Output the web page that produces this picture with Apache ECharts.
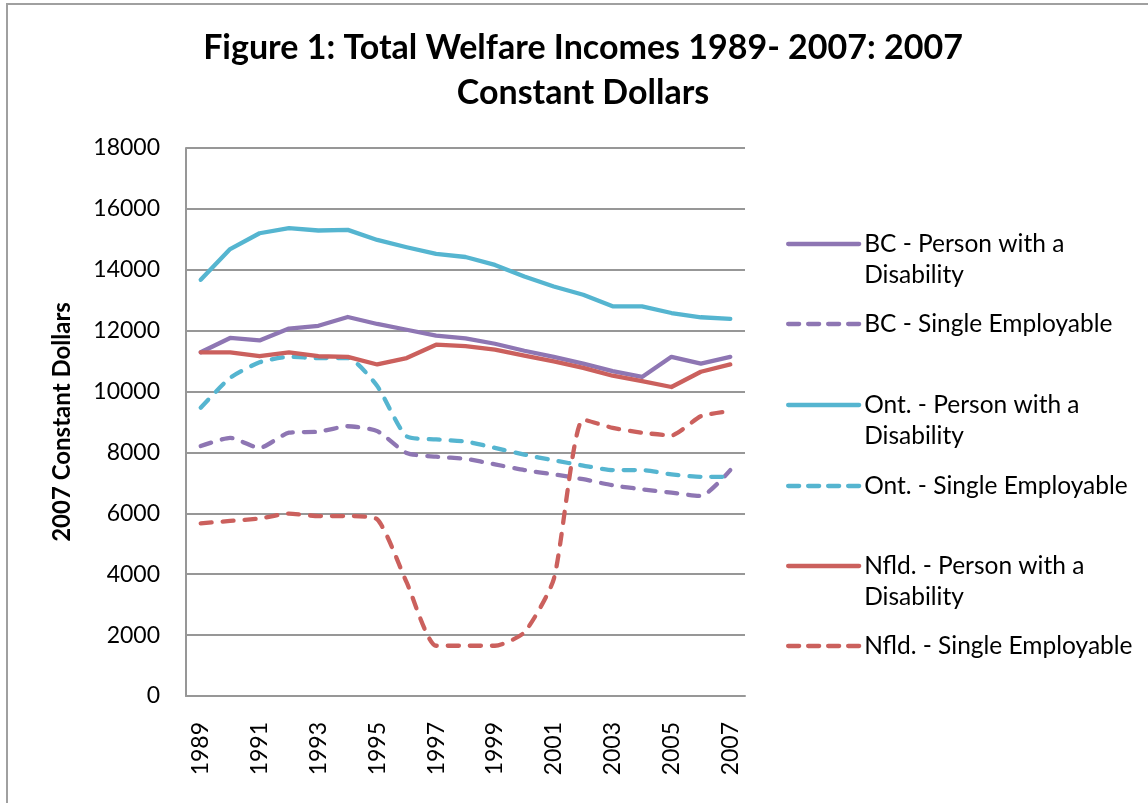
<!DOCTYPE html>
<html>
<head>
<meta charset="utf-8">
<script src="https://cdn.jsdelivr.net/npm/echarts@6/dist/echarts.min.js"></script>
<style>
  html, body { margin: 0; padding: 0; background: #ffffff; }
  #chart { width: 1148px; height: 803px; }
</style>
</head>
<body>
<div id="chart"></div>
<script>
// Years on the category axis
const years = ['1989','1990','1991','1992','1993','1994','1995','1996','1997','1998',
               '1999','2000','2001','2002','2003','2004','2005','2006','2007'];

// Total welfare incomes, 2007 constant dollars
const bcDisability   = [11290, 11760, 11680, 12070, 12160, 12450, 12220, 12030, 11840, 11750, 11570, 11340, 11140, 10920, 10670, 10480, 11140, 10920, 11140];
const bcSingle       = [8210, 8480, 8150, 8650, 8680, 8860, 8700, 7980, 7860, 7790, 7610, 7420, 7280, 7120, 6920, 6790, 6680, 6570, 7420];
const ontDisability  = [13670, 14680, 15200, 15370, 15290, 15310, 14980, 14740, 14520, 14420, 14160, 13780, 13450, 13180, 12800, 12800, 12580, 12440, 12390];
const ontSingle      = [9470, 10450, 10960, 11140, 11100, 11100, 10180, 8530, 8430, 8360, 8150, 7930, 7740, 7570, 7420, 7420, 7280, 7200, 7200];
const nfldDisability = [11290, 11290, 11160, 11290, 11160, 11140, 10890, 11100, 11540, 11490, 11380, 11180, 10990, 10780, 10520, 10340, 10150, 10650, 10890];
const nfldSingle     = [5670, 5750, 5830, 5990, 5910, 5910, 5800, 3730, 1650, 1650, 1650, 2090, 3840, 9080, 8810, 8650, 8560, 9190, 9360];

const seriesNames = [
  'BC - Person with a Disability',
  'BC - Single Employable',
  'Ont. - Person with a Disability',
  'Ont. - Single Employable',
  'Nfld. - Person with a Disability',
  'Nfld. - Single Employable'
];
// Wrapped legend text; the leading blank line keeps the key beside the first line
const legendLabels = [
  '\nBC - Person with a\nDisability',
  'BC - Single Employable',
  '\nOnt. - Person with a\nDisability',
  'Ont. - Single Employable',
  '\nNfld. - Person with a\nDisability',
  'Nfld. - Single Employable'
];
const seriesData = [bcDisability, bcSingle, ontDisability, ontSingle, nfldDisability, nfldSingle];

const PURPLE = '#8e76b3';
const CYAN = '#55b5d0';
const RED = '#cb605d';
const colors = [PURPLE, PURPLE, CYAN, CYAN, RED, RED];
const dashed = [false, true, false, true, false, true];
const DASH = [11, 11];
const LEGEND_DASH = [11, 9];
const LINE_W = 4.3;

const FONT = 'Lato, "Open Sans", sans-serif';
const GRID = '#979797';

const chart = echarts.init(document.getElementById('chart'), null, { renderer: 'canvas' });

// One legend block per series, stacked down the right side
const legendCenters = [244, 324, 405, 486, 566, 646];
const legends = seriesNames.map((name, i) => {
  const wrapped = legendLabels[i].charAt(0) === '\n';
  return {
    orient: 'vertical',
    left: 781,
    top: legendCenters[i] - (wrapped ? 51.5 : 20.5),
    itemWidth: 71,
    itemHeight: 14,
    itemGap: 0,
    selectedMode: false,
    itemStyle: { opacity: 0 },
    lineStyle: {
      width: LINE_W,
      type: dashed[i] ? LEGEND_DASH : 'solid',
      cap: 'round'
    },
    data: [name],
    formatter: () => legendLabels[i],
    textStyle: {
      fontFamily: FONT,
      fontSize: 24.5,
      color: '#000000',
      lineHeight: 31
    }
  };
});

chart.setOption({
  backgroundColor: '#ffffff',
  animation: false,
  title: {
    text: 'Figure 1: Total Welfare Incomes 1989- 2007: 2007\nConstant Dollars',
    left: 578,
    top: 21,
    textAlign: 'center',
    textStyle: {
      fontFamily: FONT,
      fontWeight: 'bold',
      fontSize: 34,
      lineHeight: 45,
      color: '#000000'
    }
  },
  graphic: [{
    type: 'rect',
    silent: true,
    z: -1,
    shape: { x: 7, y: 4, width: 1170, height: 830 },
    style: { fill: 'none', stroke: '#a0a0a0', lineWidth: 2 }
  }],
  legend: legends,
  grid: {
    left: 186,
    top: 148,
    width: 559,
    height: 548
  },
  xAxis: {
    type: 'category',
    data: years,
    boundaryGap: true,
    axisLine: { show: true, lineStyle: { color: GRID, width: 2 } },
    axisTick: { show: false },
    axisLabel: {
      rotate: 90,
      interval: 1,
      margin: 26,
      fontFamily: FONT,
      fontSize: 23,
      color: '#000000'
    },
    splitLine: { show: false }
  },
  yAxis: {
    type: 'value',
    min: 0,
    max: 18000,
    interval: 2000,
    name: '2007 Constant Dollars',
    nameLocation: 'middle',
    nameRotate: 90,
    nameGap: 112,
    nameTextStyle: {
      fontFamily: FONT,
      fontWeight: 'bold',
      fontSize: 24,
      color: '#000000'
    },
    axisLine: { show: true, lineStyle: { color: GRID, width: 2 } },
    axisTick: { show: false },
    axisLabel: {
      margin: 26,
      fontFamily: FONT,
      fontSize: 23,
      color: '#000000',
      formatter: (v) => String(v)
    },
    splitLine: { show: true, lineStyle: { color: GRID, width: 2 } }
  },
  series: seriesNames.map((name, i) => ({
    name: name,
    type: 'line',
    data: seriesData[i],
    showSymbol: false,
    symbol: 'none',
    smooth: dashed[i] ? 0.2 : false,
    color: colors[i],
    lineStyle: {
      color: colors[i],
      width: LINE_W,
      type: dashed[i] ? DASH : 'solid',
      cap: 'round',
      join: 'round'
    }
  }))
});
</script>
</body>
</html>
